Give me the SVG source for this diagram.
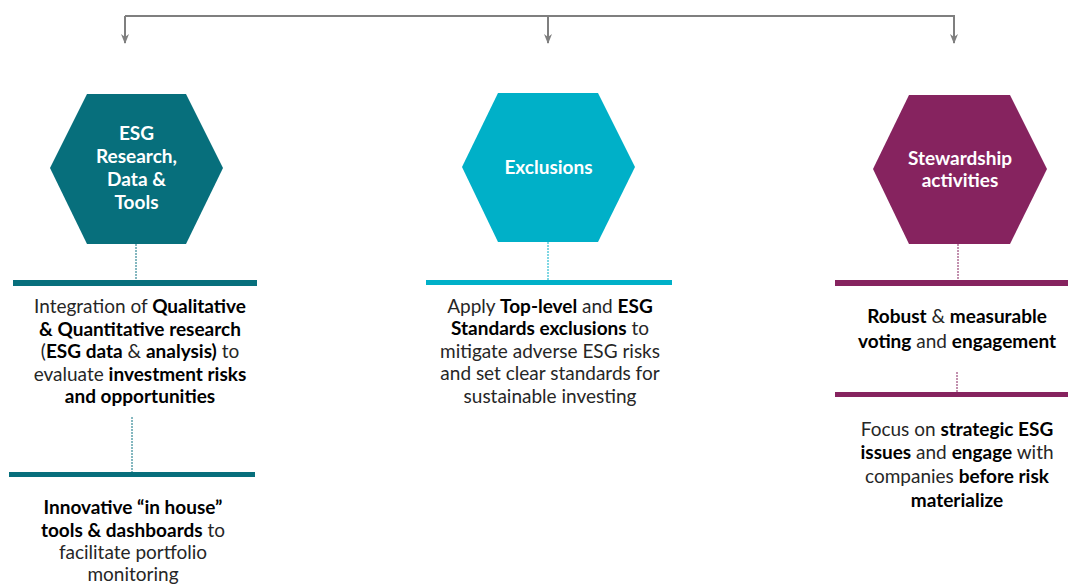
<svg xmlns="http://www.w3.org/2000/svg" width="1068" height="585" viewBox="0 0 1068 585">
<style>
.t{font-family:Lato,"Liberation Sans",sans-serif;font-size:19px;fill:#262626;text-anchor:middle}
.b{font-weight:bold;fill:#000}
.h{font-family:Lato,"Liberation Sans",sans-serif;font-size:19px;font-weight:bold;fill:#fff;text-anchor:middle}
.conn{stroke:#7f7f7f;stroke-width:2;fill:none}
.dash{stroke-width:1;stroke-dasharray:2 1;fill:none}
</style>
<defs>
<marker id="ah" viewBox="0 0 10 10" refX="9" refY="5" markerWidth="10" markerHeight="10" markerUnits="userSpaceOnUse" orient="auto">
<path d="M0,1 L10,5 L0,9 L3,5 Z" fill="#7f7f7f"/>
</marker>
</defs>
<g id="connectors">
<polyline class="conn" points="125,16 954,16 954,43" marker-end="url(#ah)"/>
<line class="conn" x1="125" y1="16" x2="125" y2="43" marker-end="url(#ah)"/>
<line class="conn" x1="548" y1="16" x2="548" y2="43" marker-end="url(#ah)"/>
<line class="dash" stroke="#0a7080" x1="136" y1="244" x2="136" y2="281"/>
<line class="dash" stroke="#0a7080" x1="132" y1="417" x2="132" y2="472"/>
<line class="dash" stroke="#00b0c8" x1="548" y1="242" x2="548" y2="280"/>
<line class="dash" stroke="#86235f" x1="958" y1="244" x2="958" y2="281"/>
<line class="dash" stroke="#86235f" x1="957" y1="372" x2="957" y2="392"/>
</g>
<g id="node-research">
<polygon points="87,94 186,94 223,168 186,244 87,244 50,168" fill="#076f7c"/>
<text class="h" x="136.5" y="140">ESG</text>
<text class="h" x="136.5" y="163">Research,</text>
<text class="h" x="136.5" y="186">Data &amp;</text>
<text class="h" x="136.5" y="209">Tools</text>
</g>
<g id="node-exclusions">
<polygon points="498,93 598,93 635,167 598,242 498,242 462,167" fill="#00b0c8"/>
<text class="h" x="548.5" y="174">Exclusions</text>
</g>
<g id="node-stewardship">
<polygon points="909,95 1010,95 1047,169 1010,244 909,244 873,169" fill="#86235f"/>
<text class="h" x="960" y="165">Stewardship</text>
<text class="h" x="960" y="187">activities</text>
</g>
<g id="bar-research-1"><rect x="13" y="280" width="244" height="6" fill="#076f7c"/></g>
<g id="text-research-1">
<text class="t" x="140" y="313">Integration of <tspan class="b">Qualitative</tspan></text>
<text class="t" x="140" y="336"><tspan class="b">&amp; Quantitative research</tspan></text>
<text class="t" x="140" y="358">(<tspan class="b">ESG data</tspan> &amp; <tspan class="b">analysis)</tspan> to</text>
<text class="t" x="140" y="381">evaluate <tspan class="b">investment risks</tspan></text>
<text class="t" x="140" y="403"><tspan class="b">and opportunities</tspan></text>
</g>
<g id="bar-research-2"><rect x="9" y="472" width="246" height="5" fill="#076f7c"/></g>
<g id="text-research-2">
<text class="t" x="133" y="514"><tspan class="b">Innovative “in house”</tspan></text>
<text class="t" x="133" y="537"><tspan class="b">tools &amp; dashboards</tspan> to</text>
<text class="t" x="133" y="559">facilitate portfolio</text>
<text class="t" x="133" y="581">monitoring</text>
</g>
<g id="bar-exclusions"><rect x="426" y="280" width="246" height="5" fill="#00b0c8"/></g>
<g id="text-exclusions">
<text class="t" x="550" y="313">Apply <tspan class="b">Top-level</tspan> and <tspan class="b">ESG</tspan></text>
<text class="t" x="550" y="335"><tspan class="b">Standards exclusions</tspan> to</text>
<text class="t" x="550" y="358">mitigate adverse ESG risks</text>
<text class="t" x="550" y="380">and set clear standards for</text>
<text class="t" x="550" y="403">sustainable investing</text>
</g>
<g id="bar-stewardship-1"><rect x="835" y="280" width="233" height="6" fill="#86235f"/></g>
<g id="text-stewardship-1">
<text class="t" x="957" y="323"><tspan class="b">Robust</tspan> &amp; <tspan class="b">measurable</tspan></text>
<text class="t" x="957" y="348"><tspan class="b">voting</tspan> and <tspan class="b">engagement</tspan></text>
</g>
<g id="bar-stewardship-2"><rect x="835" y="392" width="233" height="5" fill="#86235f"/></g>
<g id="text-stewardship-2">
<text class="t" x="957" y="436">Focus on <tspan class="b">strategic ESG</tspan></text>
<text class="t" x="957" y="459"><tspan class="b">issues</tspan> and <tspan class="b">engage</tspan> with</text>
<text class="t" x="957" y="483">companies <tspan class="b">before risk</tspan></text>
<text class="t" x="957" y="507"><tspan class="b">materialize</tspan></text>
</g>
</svg>
